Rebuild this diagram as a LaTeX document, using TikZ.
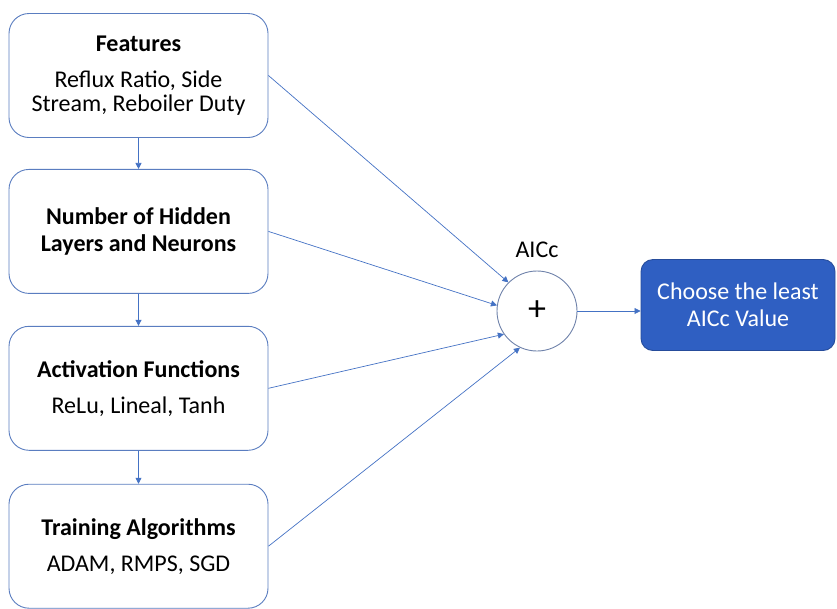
\documentclass[tikz,border=0pt]{standalone}
\usepackage{fontspec}
\setmainfont{Carlito}
\usetikzlibrary{positioning,arrows.meta}
\definecolor{boxline}{HTML}{5A7DC0}
\definecolor{circline}{HTML}{6F82AA}
\definecolor{linkblue}{HTML}{4472C4}
\definecolor{choiceblue}{HTML}{2F5FC2}
\tikzset{
	stagebox/.style={draw=boxline, line width=0.9pt, rounded corners=20pt, fill=white,
		minimum width=259pt, minimum height=124pt, align=center},
	sumnode/.style={circle, draw=circline, line width=0.9pt, minimum size=80pt, inner sep=0pt},
	choicebox/.style={fill=choiceblue, draw=choiceblue!80!black, line width=0.9pt, rounded corners=12pt,
		text=white, minimum width=194pt, minimum height=91pt, align=center},
	link/.style={draw=linkblue, line width=0.7pt, -{Triangle[length=6pt,width=6pt]}}
}
\begin{document}
\begin{tikzpicture}[x=1pt,y=-1pt, font=\fontsize{24}{24}\selectfont]
	\useasboundingbox (0,0) rectangle (837,608);
	
	\node[stagebox] (feat) at (138.5,75.5) {\textbf{Features}\\[12pt]Reflux Ratio, Side\\Stream, Reboiler Duty};
	\node[stagebox, below=31pt of feat] (hidden) {\textbf{Number of Hidden}\\[3pt]\textbf{Layers and Neurons}};
	\node[stagebox, below=32pt of hidden] (act) {\textbf{Activation Functions}\\[12pt]ReLu, Lineal, Tanh};
	\node[stagebox, below=33pt of act] (train) {\textbf{Training Algorithms}\\[12pt]ADAM, RMPS, SGD};
	
	\node[sumnode] (sum) at (537,311) {\fontsize{36}{36}\selectfont +};
	\node[above=9pt of sum] (aicc) {AICc};
	\node[choicebox] (choice) at (738,305) {Choose the least\\[3pt]AICc Value};
	
	\draw[link] (feat) -- (hidden);
	\draw[link] (hidden) -- (act);
	\draw[link] (act) -- (train);
	
	\draw[link] (feat.east) -- (sum.135);
	\draw[link] (hidden.east) -- (sum.172);
	\draw[link] (act.east) -- (sum.215);
	\draw[link] (train.east) -- (sum.245);
	\draw[link] (sum.east) -- (sum.east -| choice.west);
\end{tikzpicture}
\end{document}
